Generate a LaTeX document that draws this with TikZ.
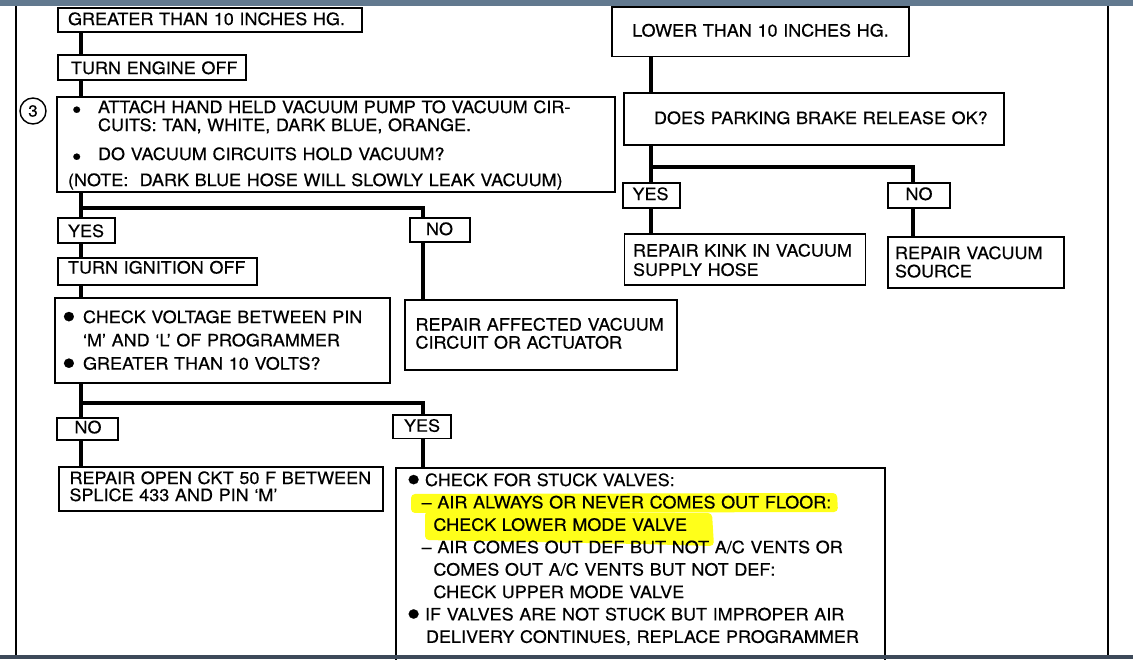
\documentclass[tikz,border=0pt]{standalone}
\usepackage{fontspec}
\usepackage{graphicx}
\usepackage{xcolor}
\newfontfamily\chartfont[FakeStretch=1.06,FakeBold=0.4]{TeX Gyre Heros}
\newcommand\chart[1]{\chartfont\fontsize{17}{#1}\selectfont}
\newcommand\smalldot{\smash{\raisebox{-5.5pt}{\scalebox{1.5}{\textbullet}}}}
\newcommand\bigdot{\smash{\raisebox{-6.5pt}{\scalebox{2.2}{\textbullet}}}}
\definecolor{barblue}{HTML}{62798F}
\definecolor{bardark}{HTML}{3D4959}
\definecolor{marker}{HTML}{FFFF1A}
\tikzset{
  box/.style={draw,line width=1.5pt,anchor=north west,inner xsep=0pt,inner ysep=0pt,outer sep=0pt,align=left,font=\chart{19}},
  pad/.style={execute at begin node={\leftskip=#1\relax}},
  flow/.style={line width=4.8pt},
  frameline/.style={line width=2pt},
  stepmark/.style={circle,draw,line width=1.4pt,minimum size=26pt,inner sep=0pt,font=\chartfont\fontsize{16}{16}\selectfont},
}

\begin{document}
\begin{tikzpicture}[x=1pt,y=-1pt]
\useasboundingbox (0,0) rectangle (1133,659);
\fill[white] (0,0) rectangle (1133,659);

% connector columns and split points
\coordinate (colA) at (81,0);
\coordinate (colB) at (423,0);
\coordinate (colR) at (651,0);
\coordinate (colS) at (913,0);
\coordinate (split1) at (81,208);
\coordinate (split2) at (81,403);
\coordinate (split3) at (651,167);

% highlighter marks
\fill[marker,rounded corners=4pt] (411,494) -- (837,493) -- (838,512) -- (411,513) -- cycle;
\fill[marker,rounded corners=4pt] (425,511) -- (712,513) -- (714,546) -- (640,544) -- (425,540) -- cycle;

% left column
\node[box,pad=10pt,text width=304pt,text height=17pt,text depth=7pt] (gt10) at (58,8) {GREATER THAN 10 INCHES HG.};
\node[box,pad=13pt,text width=188pt,text height=19pt,text depth=6pt] (engoff) at (58,55) {TURN ENGINE OFF};
\node[stepmark] (step3) at (33,111) {3};
\node[box,pad=11pt,text width=558pt,text height=16pt,text depth=79pt,font=\chart{18}] (vac) at (57,97)
{\hspace*{4pt}\makebox[26pt][l]{\smalldot}ATTACH HAND HELD VACUUM PUMP TO VACUUM CIR-\\
\hspace*{30pt}CUITS: TAN, WHITE, DARK BLUE, ORANGE.\\[11pt]
\hspace*{4pt}\makebox[26pt][l]{\smalldot}DO VACUUM CIRCUITS HOLD VACUUM?\\[8pt]
(NOTE:\ \ DARK BLUE HOSE WILL SLOWLY LEAK VACUUM)};

\node[box,pad=10pt,text width=57pt,text height=19pt,text depth=6pt] (yes1) at (58,218) {YES};
\node[box,pad=16pt,text width=60pt,text height=17pt,text depth=7pt] (no1) at (410,218) {NO};
\node[box,pad=10pt,text width=199pt,text height=15.5pt,text depth=11.5pt] (ignoff) at (58,258) {TURN IGNITION OFF};
\node[box,pad=7pt,text width=335pt,text height=25pt,text depth=60pt,font=\chart{23.3}] (volt) at (55,298)
{\makebox[21pt][l]{\bigdot}CHECK VOLTAGE BETWEEN PIN\\
\hspace*{21pt}‘M’ AND ‘L’ OF PROGRAMMER\\
\makebox[21pt][l]{\bigdot}GREATER THAN 10 VOLTS?};
\node[box,pad=10.5pt,text width=272pt,text height=30.5pt,text depth=39.5pt,font=\chart{18}] (affect) at (405,300)
{REPAIR AFFECTED VACUUM\\CIRCUIT OR ACTUATOR};

\node[box,pad=17.5pt,text width=61pt,text height=15.3pt,text depth=6.7pt] (no2) at (57,418) {NO};
\node[box,pad=11pt,text width=58pt,text height=16.7pt,text depth=6.6pt] (yes2) at (393,415) {YES};
\node[box,pad=10.5pt,text width=324pt,text height=17pt,text depth=27pt,font=\chart{17}] (openckt) at (59,467)
{REPAIR OPEN CKT 50 F BETWEEN\\SPLICE 433 AND PIN ‘M’};
\node[box,pad=10.7pt,text width=489pt,text height=18pt,text depth=212pt,font=\chart{22.4}] (stuck) at (396,468)
{\makebox[18.3pt][l]{\bigdot}CHECK FOR STUCK VALVES:\\
\hspace*{15pt}– AIR ALWAYS OR NEVER COMES OUT FLOOR:\\
\hspace*{26.7pt}CHECK LOWER MODE VALVE\\
\hspace*{15pt}– AIR COMES OUT DEF BUT NOT A/C VENTS OR\\
\hspace*{26.7pt}COMES OUT A/C VENTS BUT NOT DEF:\\
\hspace*{26.7pt}CHECK UPPER MODE VALVE\\
\makebox[18.3pt][l]{\bigdot}IF VALVES ARE NOT STUCK BUT IMPROPER AIR\\
\hspace*{19.3pt}DELIVERY CONTINUES, REPLACE PROGRAMMER};

% right column
\node[box,align=center,text width=297pt,text height=29.5pt,text depth=20pt] (lt10) at (612,7) {LOWER THAN 10 INCHES HG.};
\node[box,pad=30pt,text width=380pt,text height=31pt,text depth=21pt] (brake) at (624,93) {DOES PARKING BRAKE RELEASE OK?};
\node[box,pad=9.5pt,text width=57pt,text height=17pt,text depth=8pt] (yes3) at (623,183) {YES};
\node[box,pad=17.5pt,text width=62pt,text height=17pt,text depth=8pt] (no3) at (888,183) {NO};
\node[box,pad=8.5pt,text width=241pt,text height=22.5pt,text depth=28.5pt,font=\chart{19.3}] (kink) at (624.5,234)
{REPAIR KINK IN VACUUM\\SUPPLY HOSE};
\node[box,pad=7pt,text width=176pt,text height=22pt,text depth=29pt,font=\chart{18.3}] (source) at (888,237)
{REPAIR VACUUM\\SOURCE};

% flow lines
\draw[flow] (gt10.south -| colA) -- (engoff.north -| colA);
\draw[flow] (engoff.south -| colA) -- (vac.north -| colA);
\draw[flow] (vac.south -| colA) -- (yes1.north -| colA);
\draw[flow] (split1) -| (no1.north -| colB);
\draw[flow] (no1.south -| colB) -- (affect.north -| colB);
\draw[flow] (yes1.south -| colA) -- (ignoff.north -| colA);
\draw[flow] (ignoff.south -| colA) -- (volt.north -| colA);
\draw[flow] (volt.south -| colA) -- (no2.north -| colA);
\draw[flow] (split2) -| (yes2.north -| colB);
\draw[flow] (no2.south -| colA) -- (openckt.north -| colA);
\draw[flow] (yes2.south -| colB) -- (stuck.north -| colB);

\draw[flow] (lt10.south -| colR) -- (brake.north -| colR);
\draw[flow] (brake.south -| colR) -- (yes3.north -| colR);
\draw[flow] (split3) -| (no3.north -| colS);
\draw[flow] (yes3.south -| colR) -- (kink.north -| colR);
\draw[flow] (no3.south -| colS) -- (source.north -| colS);

% page frame of the scan
\draw[frameline] (16,5) -- (16,655);
\draw[frameline] (1108,5) -- (1108,655);
\fill[barblue] (0,0) rectangle (1133,5.5);
\fill[bardark] (0,654.5) rectangle (1133,659);

\end{tikzpicture}
\end{document}
